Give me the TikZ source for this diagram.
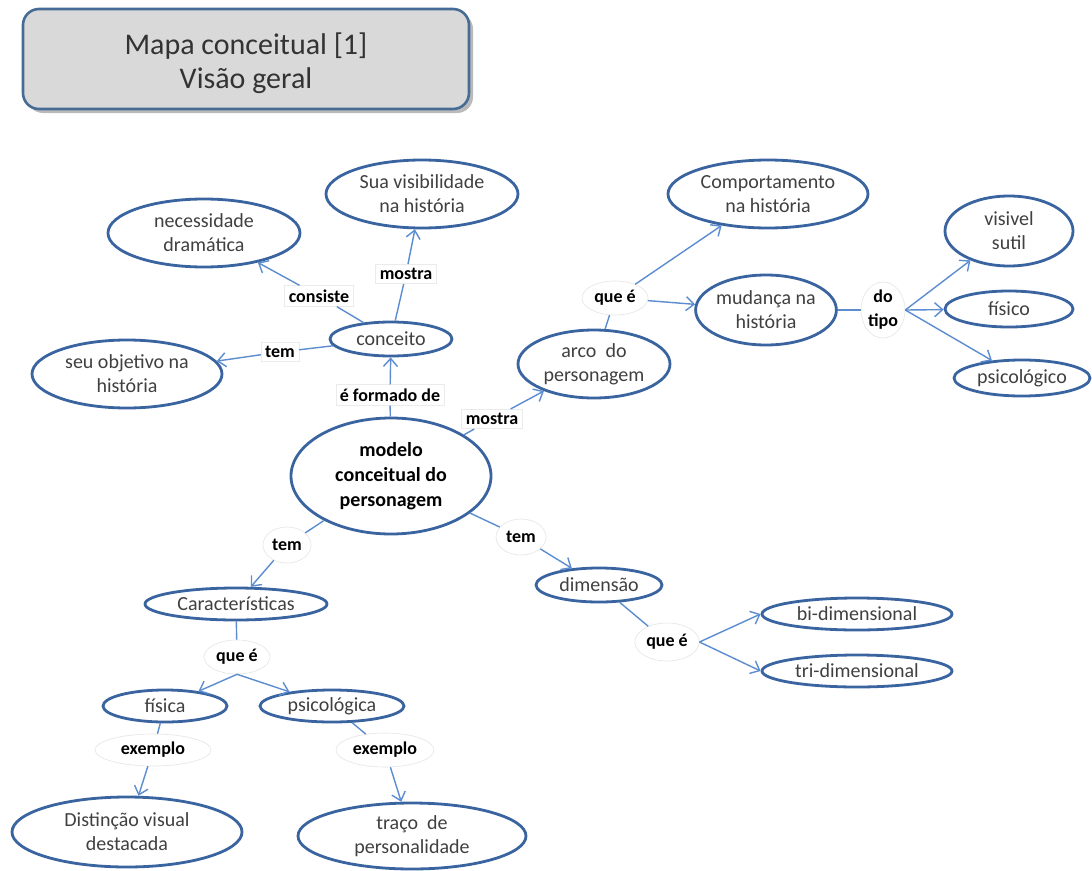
\documentclass[tikz,border=0pt]{standalone}
\usepackage{fontspec}
\setmainfont{Carlito}
\usetikzlibrary{shapes.geometric,arrows.meta,shadows}
\definecolor{cborder}{RGB}{58,100,160}
\definecolor{clink}{RGB}{91,141,208}
\definecolor{tborder}{RGB}{70,108,150}
\definecolor{tfill}{RGB}{217,217,217}
\tikzset{
  concept/.style={ellipse, draw=cborder, line width=2.8pt, fill=white, text=black!75,
    font=\fontsize{20}{24}\selectfont, align=center, inner sep=0pt},
  lab/.style={font=\bfseries\fontsize{18}{24}\selectfont, text=black, fill=white, align=center},
  labbox/.style={lab, rectangle, draw=black!8, line width=0.6pt, inner sep=4pt},
  labell/.style={lab, ellipse, draw=black!10, line width=0.6pt, inner sep=2pt},
  link/.style={draw=clink, line width=1.4pt},
  arr/.style={link, -{Straight Barb[length=8pt,width=14pt,line width=1.4pt]}},
  titlebox/.style={rectangle, rounded corners=16pt, draw=tborder, line width=2.6pt,
    fill=tfill, text=black!80, font=\fontsize{30}{34}\selectfont, align=center,
    drop shadow={shadow xshift=4pt, shadow yshift=-4pt, opacity=0.45, fill=black!60}}
}
\begin{document}
\begin{tikzpicture}[x=1pt,y=-1pt]
\fill[white] (0,0) rectangle (1092,870);
\useasboundingbox (0,0) rectangle (1092,870);

\node[titlebox, minimum width=446pt, minimum height=100pt] (title) at (246,59) {\raisebox{-12pt}[0pt][0pt]{\begin{tabular}{@{}c@{}}Mapa conceitual [1]\\Visão geral\end{tabular}}};

% concepts
\node[concept, minimum width=192pt, minimum height=68pt] (visib) at (422,194) {Sua visibilidade\\na história};
\node[concept, minimum width=192pt, minimum height=68pt] (neces) at (204,233) {necessidade\\dramática};
\node[concept, minimum width=122pt, minimum height=34pt] (conceito) at (391,339) {conceito};
\node[concept, minimum width=190pt, minimum height=68pt] (objet) at (127,374) {seu objetivo na\\história};
\node[concept, minimum width=200pt, minimum height=68pt] (comport) at (768,194) {Comportamento\\na história};
\node[concept, minimum width=138pt, minimum height=70pt] (mudanca) at (766,310) {mudança na\\história};
\node[concept, minimum width=152pt, minimum height=68pt] (arco) at (594,364) {arco\ \ do\\personagem};
\node[concept, minimum width=128pt, minimum height=70pt] (visivel) at (1009,231) {visivel\\sutil};
\node[concept, minimum width=128pt, minimum height=36pt] (fisico) at (1009,309) {físico};
\node[concept, minimum width=136pt, minimum height=36pt] (psico) at (1022,378) {psicológico};
\node[concept, text=black, font=\bfseries\fontsize{20}{25}\selectfont, minimum width=200pt, minimum height=116pt] (modelo) at (391,476) {modelo\\conceitual do\\personagem};
\node[concept, minimum width=182pt, minimum height=32pt] (caract) at (236,604) {Características};
\node[concept, minimum width=124pt, minimum height=32pt] (fisica) at (165,706) {física};
\node[concept, minimum width=144pt, minimum height=32pt] (psicoa) at (332,706) {psicológica};
\node[concept, minimum width=230pt, minimum height=70pt] (disting) at (127,832) {Distinção visual\\destacada};
\node[concept, minimum width=228pt, minimum height=66pt] (traco) at (412,836) {traço\ \ de\\personalidade};
\node[concept, minimum width=126pt, minimum height=34pt] (dimensao) at (599,585) {dimensão};
\node[concept, minimum width=190pt, minimum height=32pt] (bi) at (857,614) {bi-dimensional};
\node[concept, minimum width=190pt, minimum height=32pt] (tri) at (857,671) {tri-dimensional};

% labels
\node[labbox] (lconsiste) at (319,296) {consiste};
\node[labbox] (lmostraa) at (406,274) {mostra};
\node[labbox] (ltema) at (280,352) {tem};
\node[labbox] (lformado) at (390,395) {é formado de};
\node[labbox] (lmostrab) at (492,419) {mostra};
\node[labell, minimum width=66pt, minimum height=34pt] (lqueea) at (615,298) {que é};
\node[labell, minimum width=44pt, minimum height=56pt, inner sep=0pt] (ldotipo) at (883,310) {do\\tipo};
\node[labell, minimum width=48pt, minimum height=36pt] (ltemb) at (287,545) {tem};
\node[labell, minimum width=50pt, minimum height=36pt] (ltemc) at (521,537) {tem};
\node[labell, minimum width=66pt, minimum height=34pt] (lqueeb) at (237,657) {que é};
\node[labell, minimum width=116pt, minimum height=32pt] (lexa) at (153,750) {exemplo};
\node[labell, minimum width=98pt, minimum height=34pt] (lexb) at (385,750) {exemplo};
\node[labell, minimum width=60pt, minimum height=38pt] (lqueec) at (667,642) {que é};

% connectors
\draw[link] (conceito) -- (lconsiste);
\draw[arr] (lconsiste) -- (neces);
\draw[link] (conceito) -- (lmostraa);
\draw[arr] (lmostraa) -- (visib);
\draw[link] (conceito) -- (ltema);
\draw[arr] (ltema) -- (objet);
\draw[link] (modelo) -- (lformado);
\draw[arr] (lformado) -- (conceito);
\draw[link] (modelo) -- (lmostrab);
\draw[arr] (lmostrab) -- (arco);
\draw[link] (arco) -- (lqueea);
\draw[arr] (lqueea) -- (comport);
\draw[arr] (lqueea) -- (mudanca);
\draw[link] (mudanca) -- (ldotipo);
\draw[arr] (ldotipo.east) -- (visivel);
\draw[arr] (ldotipo.east) -- (fisico);
\draw[arr] (ldotipo.east) -- (psico);
\draw[link] (modelo) -- (ltemb);
\draw[arr] (ltemb) -- (caract);
\draw[link] (modelo) -- (ltemc);
\draw[arr] (ltemc) -- (dimensao);
\draw[link] (caract) -- (lqueeb);
\draw[arr] (lqueeb.south) -- (fisica);
\draw[arr] (lqueeb.south) -- (psicoa);
\draw[link] (fisica) -- (lexa);
\draw[arr] (lexa) -- (disting);
\draw[link] (psicoa) -- (lexb);
\draw[arr] (lexb) -- (traco);
\draw[link] (dimensao) -- (lqueec);
\draw[arr] (lqueec.east) -- (bi.west);
\draw[arr] (lqueec.east) -- (tri.west);
\end{tikzpicture}
\end{document}
